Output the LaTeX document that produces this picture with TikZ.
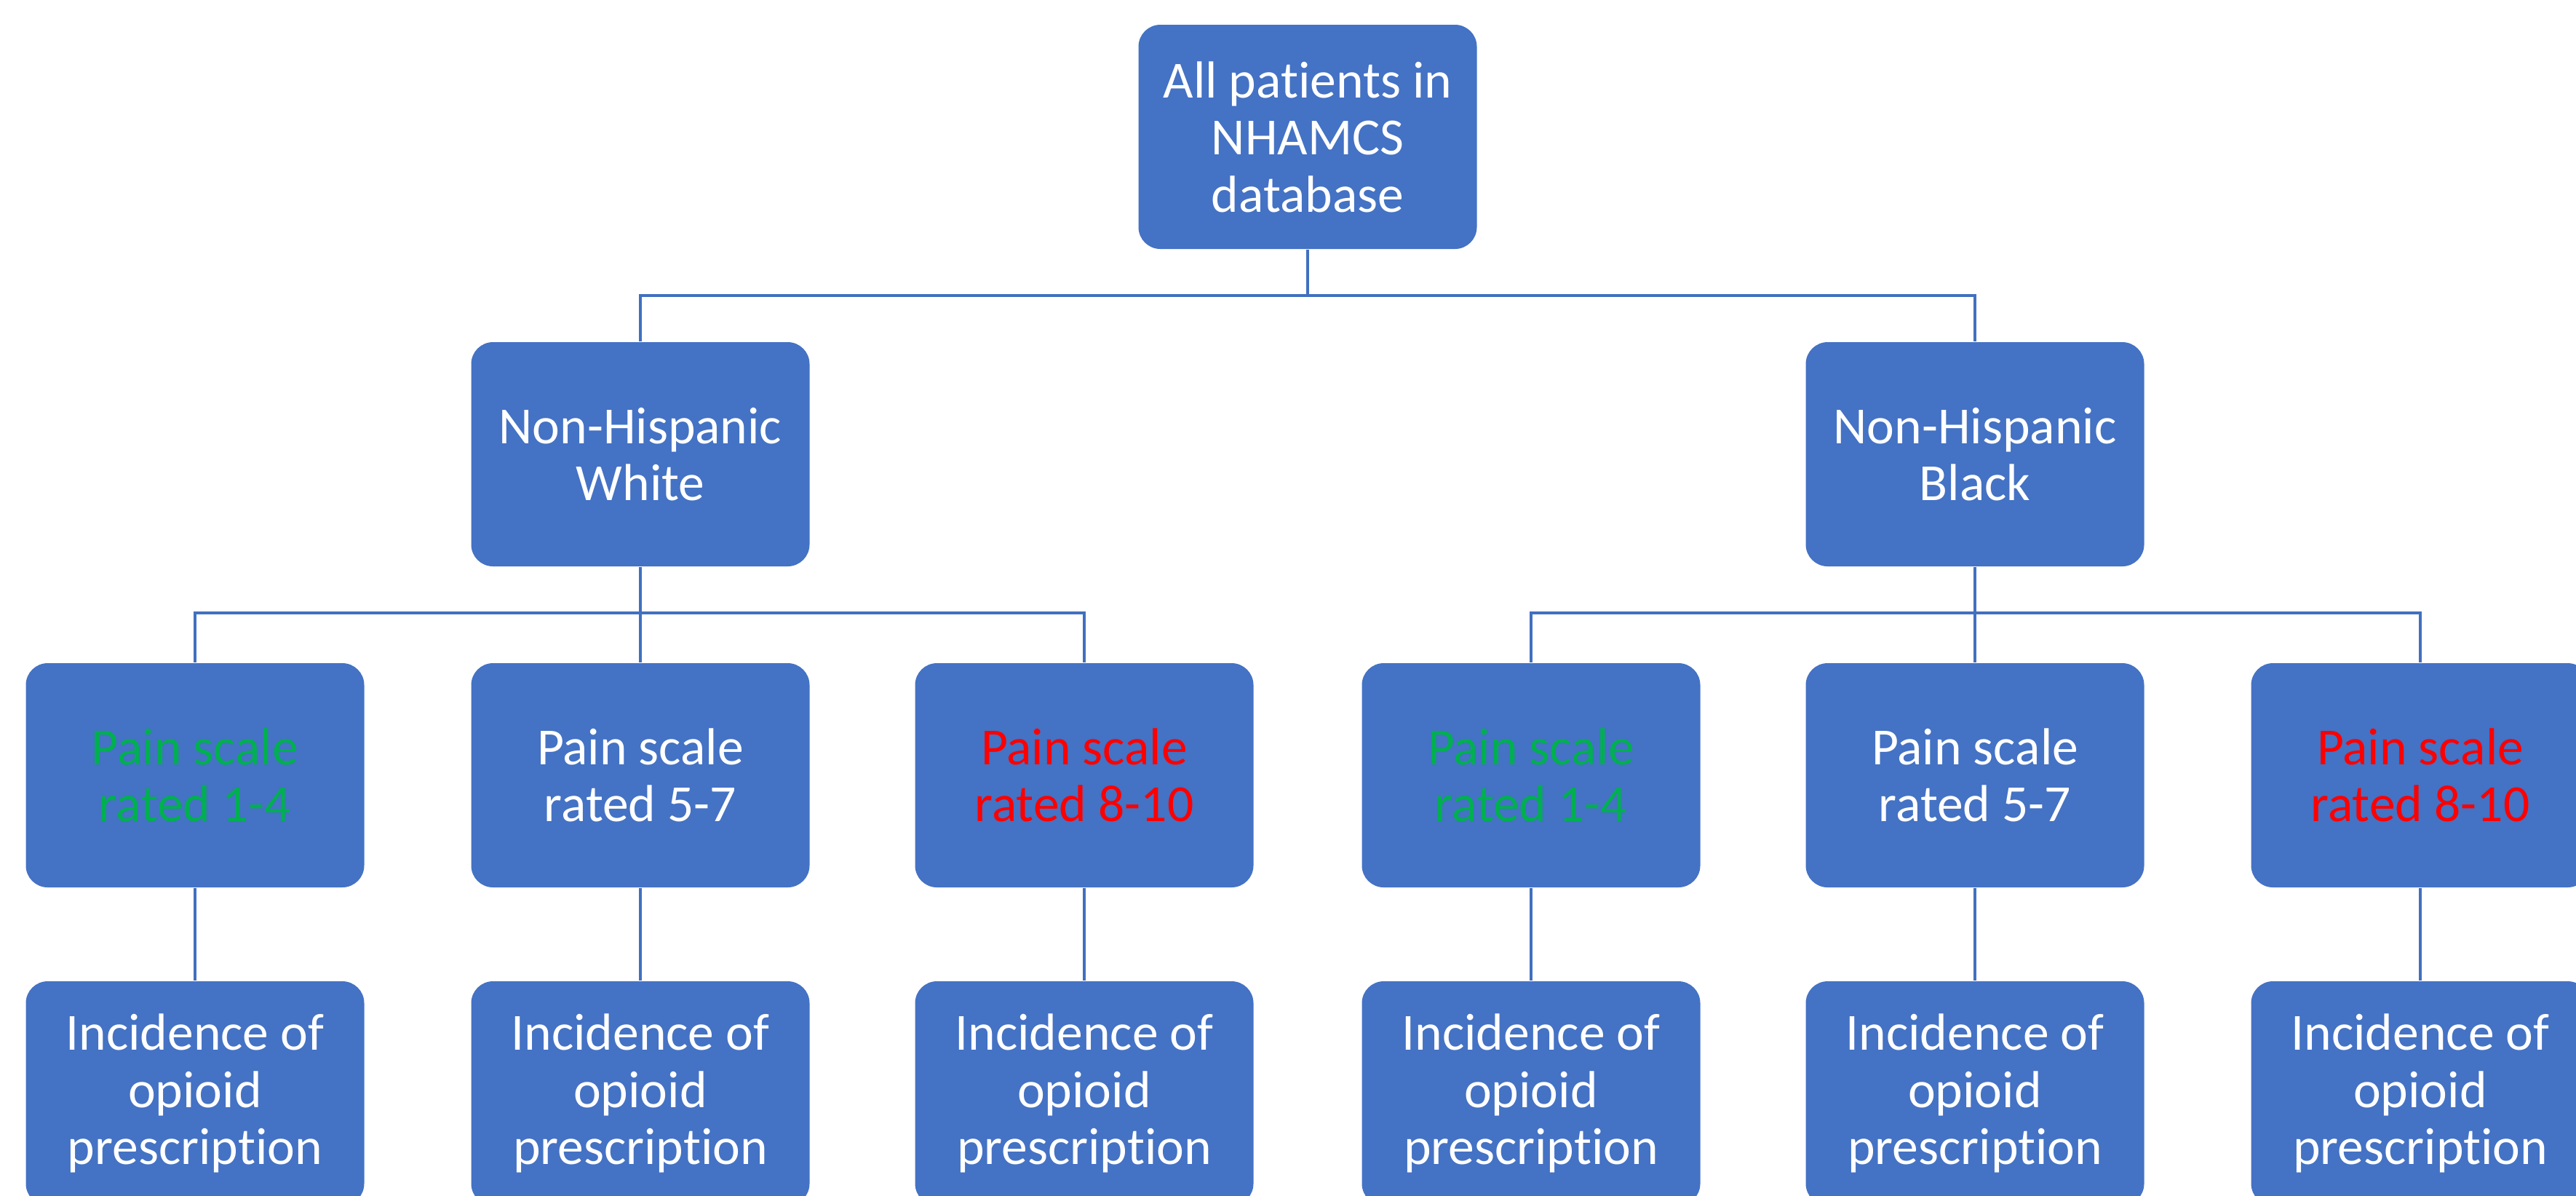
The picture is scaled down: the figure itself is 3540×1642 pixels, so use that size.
\documentclass[tikz,border=0pt]{standalone}
\usepackage{fontspec}
\setmainfont{Carlito}[RawFeature=-liga]
\definecolor{boxblue}{HTML}{4472C4}
\definecolor{linecol}{HTML}{4170BF}
\definecolor{lowgreen}{HTML}{00B050}
\definecolor{highred}{HTML}{FF0000}
\begin{document}
\begin{tikzpicture}[x=0.25pt,y=-0.25pt,
  box/.style={rectangle, rounded corners=7.5pt, fill=boxblue, minimum width=116.25pt,
    minimum height=77pt, inner sep=0pt, align=center,
    font=\fontsize{17.9}{19.6}\selectfont, text=white},
  conn/.style={draw=linecol, line width=0.9pt}]
\useasboundingbox (0,0) rectangle (3540,1642);
\clip (0,0) rectangle (3540,1642);
% level 1
\node[box] (top) at (1797,188) {All patients in\\NHAMCS\\database};
% level 2
\node[box] (wh) at (880,624) {Non-Hispanic\\White};
\node[box] (bl) at (2714,624) {Non-Hispanic\\Black};
% level 3
\node[box, text=lowgreen] (p1) at (268,1065) {Pain scale\\rated 1-4};
\node[box] (p2) at (880,1065) {Pain scale\\rated 5-7};
\node[box, text=highred] (p3) at (1490,1065) {Pain scale\\rated 8-10};
\node[box, text=lowgreen] (p4) at (2104,1065) {Pain scale\\rated 1-4};
\node[box] (p5) at (2714,1065) {Pain scale\\rated 5-7};
\node[box, text=highred] (p6) at (3326,1065) {Pain scale\\rated 8-10};
% level 4
\node[box] (q1) at (268,1502) {Incidence of\\opioid\\prescription};
\node[box] (q2) at (880,1502) {Incidence of\\opioid\\prescription};
\node[box] (q3) at (1490,1502) {Incidence of\\opioid\\prescription};
\node[box] (q4) at (2104,1502) {Incidence of\\opioid\\prescription};
\node[box] (q5) at (2714,1502) {Incidence of\\opioid\\prescription};
\node[box] (q6) at (3326,1502) {Incidence of\\opioid\\prescription};
% connectors
\coordinate (bus0) at (1797,406);
\coordinate (bus1) at (880,842);
\coordinate (bus2) at (2714,842);
\draw[conn, line width=1.1pt] (top.south) -- (bus0);
\draw[conn] (wh.north) |- (bus0) -| (bl.north);
\draw[conn] (wh.south) -- (bus1);
\draw[conn] (p1.north) |- (bus1) -| (p3.north);
\draw[conn] (bus1) -- (p2.north);
\draw[conn] (bl.south) -- (bus2);
\draw[conn] (p4.north) |- (bus2) -| (p6.north);
\draw[conn] (bus2) -- (p5.north);
\draw[conn] (p1.south) -- (q1.north);
\draw[conn] (p2.south) -- (q2.north);
\draw[conn] (p3.south) -- (q3.north);
\draw[conn] (p4.south) -- (q4.north);
\draw[conn] (p5.south) -- (q5.north);
\draw[conn] (p6.south) -- (q6.north);
\end{tikzpicture}
\end{document}
